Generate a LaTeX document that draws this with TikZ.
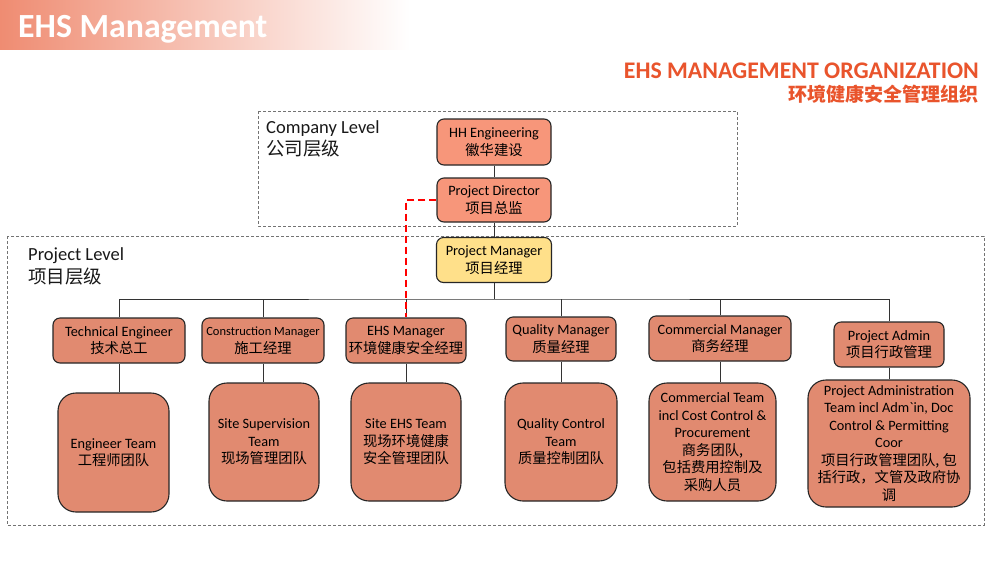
\documentclass[tikz,border=0pt]{standalone}
\usepackage{fontspec}
\setmainfont{Carlito}
\newfontfamily\cjk{Noto Sans CJK SC}
\definecolor{topfill}{HTML}{F7967A}
\definecolor{boxfill}{HTML}{E18A70}
\definecolor{pmfill}{HTML}{FFE08A}
\definecolor{titlered}{HTML}{E9542C}
\definecolor{hdr}{HTML}{EF8C72}
\tikzset{
  box/.style={draw=black!85, line width=1.1pt, rounded corners=7pt, fill=boxfill, align=center, inner sep=0pt, font=\fontsize{14.3}{17.5}\selectfont},
  topbox/.style={box, fill=topfill},
  team/.style={box, rounded corners=18pt},
  lvl/.style={draw=black!55, dash pattern=on 3pt off 2pt, line width=0.8pt},
  conn/.style={draw=black!80, line width=1pt},
  reddash/.style={draw=red, line width=2.4pt, dash pattern=on 7pt off 4pt},
  lbl/.style={inner sep=0pt, font=\fontsize{18.5}{22}\selectfont, text=black!90},
}
\begin{document}
\begin{tikzpicture}[x=1pt,y=-1pt]
\useasboundingbox (0,0) rectangle (1000,563);
\fill[white] (0,0) rectangle (1000,563);
% header
\shade[left color=hdr, right color=white] (0,0) rectangle (410,49);
\node[anchor=base west, inner sep=0pt, text=white, font=\fontsize{33.8}{36}\selectfont\bfseries] (ttl) at (18,37) {EHS Management};
\node[anchor=base east, inner sep=0pt, text=titlered, font=\fontsize{23.8}{26}\selectfont\bfseries] (t1) at (979,78) {EHS MANAGEMENT ORGANIZATION};
\node[anchor=base east, inner sep=0pt, text=titlered, font=\fontsize{19}{22}\selectfont\cjk\bfseries] (t2) at (979,101) {环境健康安全管理组织};
% level frames
\draw[lvl] (258,111) rectangle (737,226);
\draw[lvl] (7,236) rectangle (984,525);
\node[lbl, anchor=base west] (cl) at (266,133) {Company Level};
\node[lbl, anchor=base west] (clc) at (266,155) {\cjk 公司层级};
\node[lbl, anchor=base west] (pl) at (28,260) {Project Level};
\node[lbl, anchor=base west] (plc) at (28,283) {\cjk 项目层级};
% top nodes
\node[topbox, minimum width=114pt, minimum height=46pt] (hh) at (494,142) {HH Engineering\\{\cjk 徽华建设}};
\node[topbox, minimum width=114pt, minimum height=44pt] (pd) at (494,200) {Project Director\\{\cjk 项目总监}};
\node[box, fill=pmfill, minimum width=115pt, minimum height=45pt] (pm) at (494,260) {Project Manager\\{\cjk 项目经理}};
% level 2
\node[box, minimum width=132pt, minimum height=45pt] (te) at (119,340.5) {Technical Engineer\\{\cjk 技术总工}};
\node[box, minimum width=122pt, minimum height=45pt] (cm) at (263,340.5) {{\fontsize{12.5}{17.5}\selectfont Construction Manager}\\{\cjk 施工经理}};
\node[box, minimum width=120pt, minimum height=45pt] (ehs) at (406,340.5) {EHS Manager\\{\cjk 环境健康安全经理}};
\node[box, minimum width=110pt, minimum height=44pt] (qm) at (561,339) {Quality Manager\\{\cjk 质量经理}};
\node[box, minimum width=142pt, minimum height=45pt] (com) at (720,338.5) {Commercial Manager\\{\cjk 商务经理}};
\node[box, minimum width=110pt, minimum height=45pt] (pa) at (889,344.5) {Project Admin\\{\cjk 项目行政管理}};
% teams
\node[team, minimum width=111pt, minimum height=119pt] (et) at (113.5,452.5) {Engineer Team\\{\cjk 工程师团队}};
\node[team, minimum width=110pt, minimum height=118pt] (ss) at (264,442) {Site Supervision\\Team\\{\cjk 现场管理团队}};
\node[team, minimum width=110pt, minimum height=118pt] (se) at (406,442) {Site EHS Team\\{\cjk 现场环境健康}\\{\cjk 安全管理团队}};
\node[team, minimum width=112pt, minimum height=118pt] (qc) at (561,442) {Quality Control\\Team\\{\cjk 质量控制团队}};
\node[team, minimum width=127pt, minimum height=118pt] (ct) at (712.5,442) {Commercial Team\\incl Cost Control \&\\Procurement\\{\cjk 商务团队,}\\{\cjk 包括费用控制及}\\{\cjk 采购人员}};
\node[team, minimum width=162pt, minimum height=127pt] (pat) at (889,443.5) {Project Administration\\Team incl Adm\textasciigrave in, Doc\\Control \& Permitting\\Coor\\{\cjk 项目行政管理团队, 包}\\{\cjk 括行政，文管及政府协}\\{\cjk 调}};
% connectors
\coordinate (bus) at (494,299);
\draw[conn] (hh) -- (pd);
\draw[conn] (pd) -- (pm);
\draw[conn] (pm) -- (bus);
\draw[conn] (te.north) |- (bus) -| (pa.north);
\draw[conn] (cm.north) -- (cm.north |- bus);
\draw[conn] (ehs.north) -- (ehs.north |- bus);
\draw[conn] (qm.north) -- (qm.north |- bus);
\draw[conn] (com.north) -- (com.north |- bus);
\draw[conn] (te.south) -- (te.south |- et.north);
\draw[conn] (cm.south) -- (cm.south |- ss.north);
\draw[conn] (ehs.south) -- (ehs.south |- se.north);
\draw[conn] (qm.south) -- (qm.south |- qc.north);
\draw[conn] (com.south) -- (com.south |- ct.north);
\draw[conn] (pa.south) -- (pa.south |- pat.north);
\draw[reddash] (pd.west) -| (ehs.north);
\end{tikzpicture}
\end{document}
